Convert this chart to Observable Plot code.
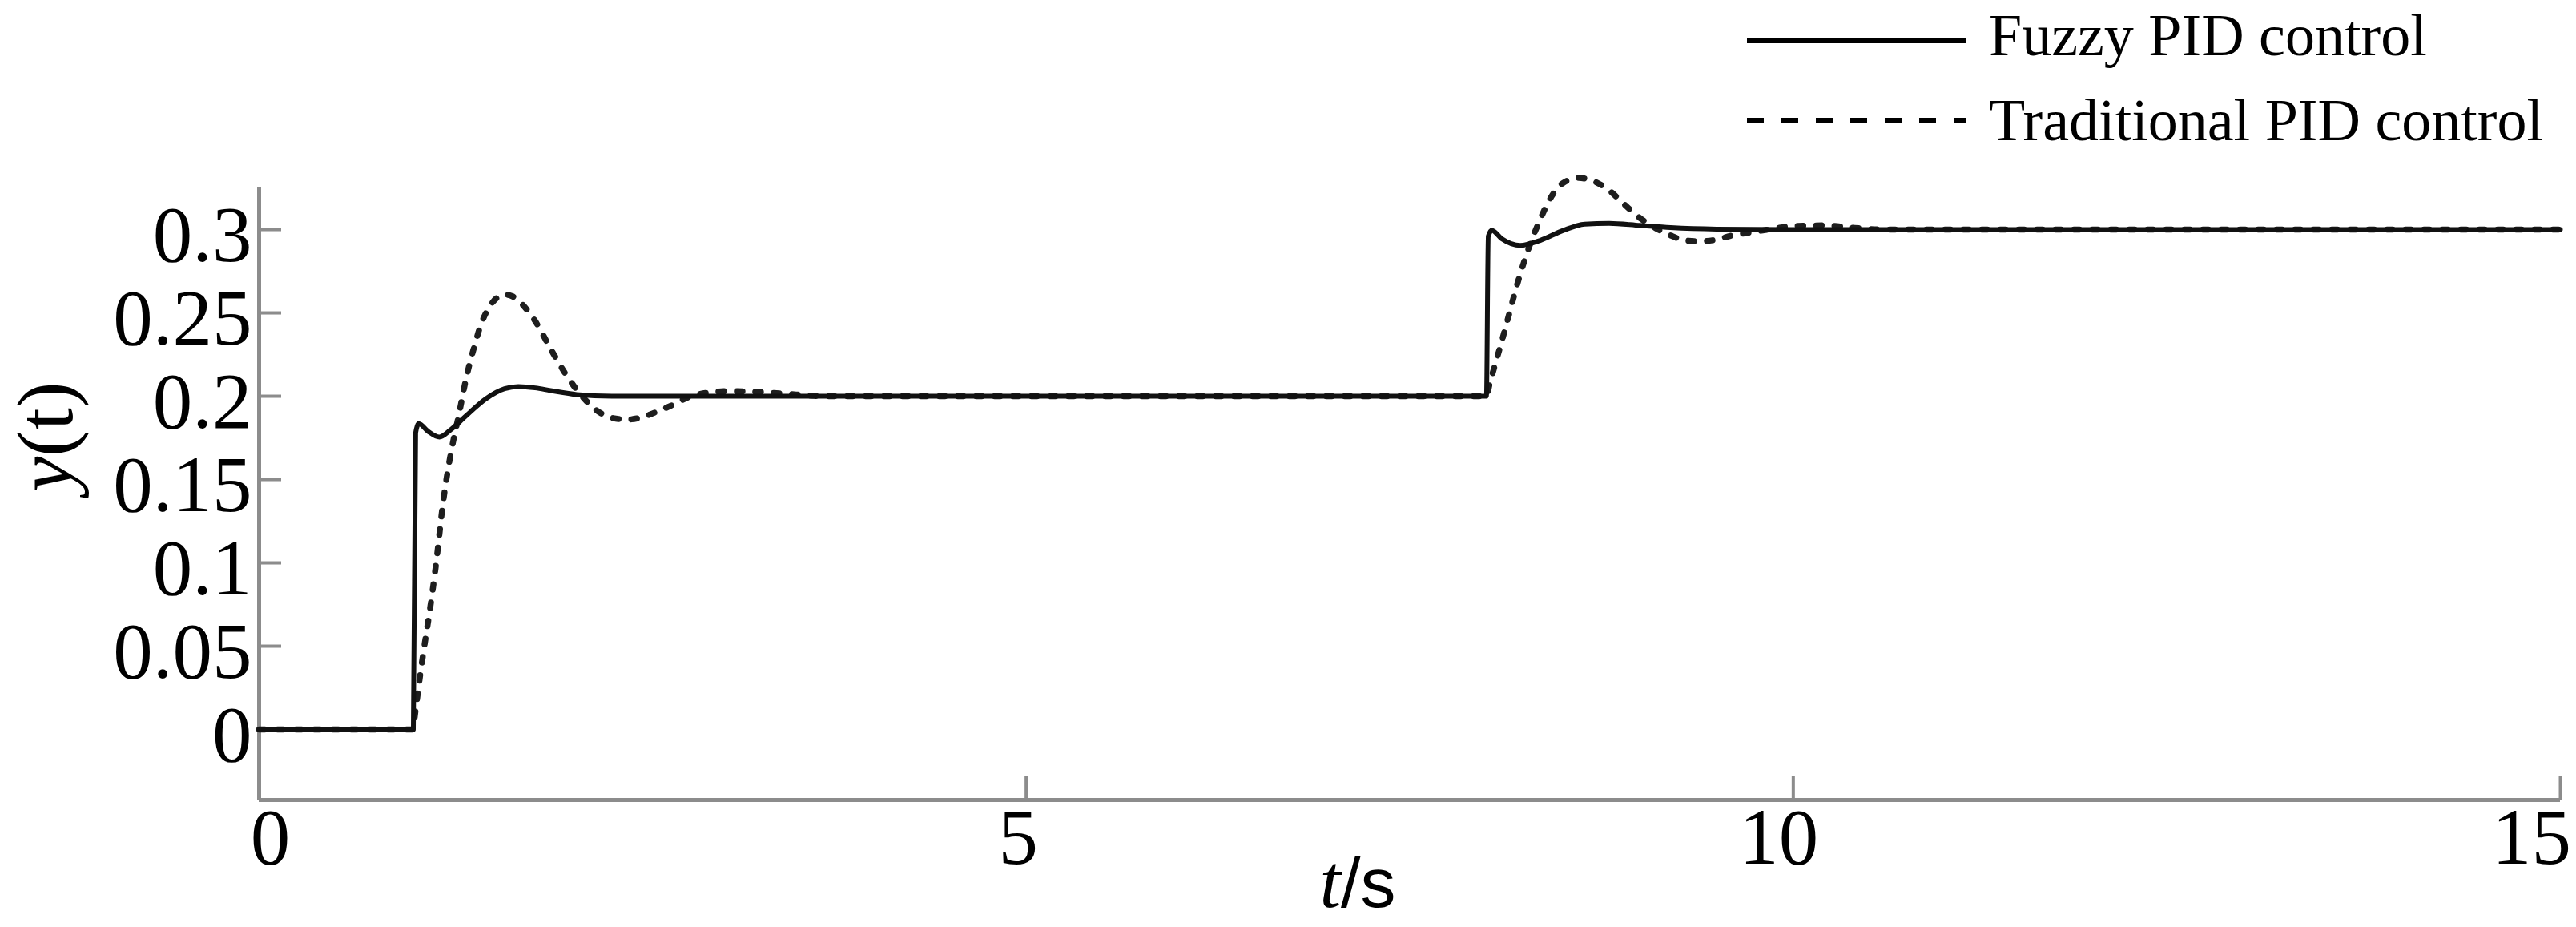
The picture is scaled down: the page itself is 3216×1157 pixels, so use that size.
<!DOCTYPE html>
<html><head><meta charset="utf-8">
<script src="https://cdn.jsdelivr.net/npm/d3@7"></script>
<script src="https://cdn.jsdelivr.net/npm/@observablehq/plot@0.6"></script>
<style>
html,body{margin:0;padding:0;background:#fff;}
#wrap{position:relative;width:3216px;height:1157px;overflow:hidden;background:#fff;}
</style></head><body><div id="wrap"></div>
<script>
// ---- data ----
const seriesNames = ["Fuzzy PID control", "Traditional PID control"];

const fuzzyT = [0, 1.005, 1.02, 1.04, 1.1, 1.175, 1.25, 1.34, 1.48, 1.6, 1.69, 1.8, 1.9, 2.07, 2.3, 3, 4, 5, 6, 7,
                8.0, 8.012, 8.035, 8.1, 8.22, 8.35, 8.5, 8.64, 8.8, 9.0, 9.2, 9.5, 10, 11, 12, 13, 14, 15];
const fuzzyY = [0, 0, 0.178, 0.1835, 0.179, 0.1755, 0.18, 0.1875, 0.1986, 0.2045, 0.2058, 0.205, 0.2034, 0.201, 0.2, 0.2, 0.2, 0.2, 0.2, 0.2,
                0.2, 0.296, 0.2995, 0.2945, 0.2905, 0.2935, 0.2995, 0.3033, 0.3038, 0.3025, 0.3012, 0.3003, 0.3, 0.3, 0.3, 0.3, 0.3, 0.3];

const tradT = [0, 1.0, 1.02, 1.05, 1.08, 1.11, 1.15, 1.2, 1.25, 1.3, 1.35, 1.4, 1.45, 1.5, 1.55, 1.6, 1.65, 1.7, 1.8, 1.9,
               2.0, 2.1, 2.2, 2.3, 2.4, 2.5, 2.6, 2.7, 2.8, 2.9, 3.05, 3.2, 3.35, 3.5, 3.7, 4, 5, 6, 7,
               8.0, 8.02, 8.05, 8.1, 8.15, 8.2, 8.25, 8.3, 8.35, 8.4, 8.5, 8.6, 8.7, 8.8, 8.9, 9.0, 9.1, 9.2, 9.3, 9.4,
               9.5, 9.6, 9.7, 9.8, 9.9, 10.0, 10.2, 10.4, 10.6, 11, 12, 13, 14, 15];
const tradY = [0, 0, 0.012, 0.033, 0.052, 0.07, 0.097, 0.137, 0.166, 0.188, 0.211, 0.229, 0.244, 0.2535, 0.259, 0.261, 0.26, 0.2565, 0.245, 0.2285,
               0.213, 0.2005, 0.1915, 0.187, 0.186, 0.1875, 0.191, 0.195, 0.1995, 0.2018, 0.203, 0.2028, 0.202, 0.201, 0.2, 0.2, 0.2, 0.2, 0.2,
               0.2, 0.207, 0.217, 0.233, 0.25, 0.267, 0.282, 0.295, 0.306, 0.316, 0.328, 0.331, 0.329, 0.3235, 0.315, 0.307, 0.301, 0.2965, 0.2935, 0.293,
               0.294, 0.2965, 0.298, 0.2995, 0.301, 0.302, 0.3025, 0.301, 0.3, 0.3, 0.3, 0.3, 0.3, 0.3];

const xTicks = [0, 5, 10, 15];
const xTickLabels = ["0", "5", "10", "15"];
const yTicks = [0, 0.05, 0.1, 0.15, 0.2, 0.25, 0.3];
const yTickLabels = ["0", "0.05", "0.1", "0.15", "0.2", "0.25", "0.3"];
const xDomain = [0, 15];
const yDomain = [-0.0423, 0.3255];

// ---- layout ----
const W = 3216, H = 1157, mL = 323, mR = 20, mT = 233, mB = 159;
const pxPerX = (W - mL - mR) / (xDomain[1] - xDomain[0]);
const pxPerY = (H - mT - mB) / (yDomain[1] - yDomain[0]);
const serif = '"Liberation Serif","Times New Roman",Times,serif';
const axisColor = "#8c8c8c";

const fuzzy = fuzzyT.map((t, i) => ({t, y: fuzzyY[i], s: seriesNames[0]}));
const trad = tradT.map((t, i) => ({t, y: tradY[i], s: seriesNames[1]}));

const plot = Plot.plot({
  width: W, height: H,
  marginLeft: mL, marginRight: mR, marginTop: mT, marginBottom: mB,
  x: {domain: xDomain},
  y: {domain: yDomain},
  style: {fontFamily: serif, background: "#fff", overflow: "visible", color: "#000"},
  marks: [
    Plot.axisX({ticks: xTicks, tickSize: 0, tickPadding: 9, fontSize: 99, fill: "#000",
      tickFormat: d => xTickLabels[xTicks.indexOf(d)], label: null}),
    Plot.axisY({ticks: yTicks, tickSize: 0, tickPadding: 9, fontSize: 99, fill: "#000", dy: 8,
      tickFormat: d => yTickLabels[yTicks.indexOf(d)], label: null}),
    Plot.ruleY(yTicks, {x1: xDomain[0], x2: xDomain[0] + 28 / pxPerX, stroke: axisColor, strokeWidth: 4}),
    Plot.ruleX(xTicks, {y1: yDomain[0], y2: yDomain[0] + 30 / pxPerY, stroke: axisColor, strokeWidth: 4}),
    Plot.ruleX([xDomain[0]], {y1: yDomain[0], y2: yDomain[1], stroke: axisColor, strokeWidth: 5}),
    Plot.ruleY([yDomain[0]], {x1: xDomain[0], x2: xDomain[1], stroke: axisColor, strokeWidth: 5}),
    Plot.line(trad, {x: "t", y: "y", stroke: "#1e1e1e", strokeWidth: 7.5, strokeDasharray: "7,16", curve: "monotone-x"}),
    Plot.line(fuzzy, {x: "t", y: "y", stroke: "#111", strokeWidth: 6, curve: "monotone-x"})
  ]
});

document.getElementById("wrap").appendChild(plot);

// nudge x tick labels the way the reference places them (last one kept inside the frame)
const xLabelShift = {"0": 14, "5": -10, "10": -18, "15": -36};
d3.select(plot).selectAll('g[aria-label="x-axis tick label"] text').each(function () {
  const s = d3.select(this);
  const k = s.text();
  if (xLabelShift[k] !== undefined) s.attr("dx", xLabelShift[k]);
});

// axis titles
const svg = d3.select(plot);
const yl = svg.append("text")
  .attr("transform", "translate(90,545) rotate(-90)")
  .attr("text-anchor", "middle")
  .attr("font-family", serif).attr("font-size", 99).attr("fill", "#000");
yl.append("tspan").attr("font-style", "italic").text("y");
yl.append("tspan").text("(t)");

const xl = svg.append("text")
  .attr("x", 1695).attr("y", 1132)
  .attr("text-anchor", "middle").attr("fill", "#000");
xl.append("tspan").attr("font-family", serif).attr("font-style", "italic").attr("font-size", 96).text("t");
xl.append("tspan").attr("font-family", '"Liberation Sans",Arial,sans-serif').attr("font-size", 88).text("/s");

// legend (overlay at top right)
const leg = d3.select("#wrap").append("svg")
  .attr("width", W).attr("height", 210)
  .style("position", "absolute").style("left", "0px").style("top", "0px");
const legRows = [
  {name: seriesNames[0], ly: 51, base: 69, dash: null},
  {name: seriesNames[1], ly: 150, base: 175, dash: "21,22"}
];
legRows.forEach(r => {
  leg.append("line").attr("x1", 2181).attr("x2", 2455).attr("y1", r.ly).attr("y2", r.ly)
    .attr("stroke", "#000").attr("stroke-width", 6).attr("stroke-dasharray", r.dash);
  leg.append("text").attr("x", 2483).attr("y", r.base)
    .attr("font-family", serif).attr("font-size", 74).attr("fill", "#000").text(r.name);
});
</script>
</body></html>
